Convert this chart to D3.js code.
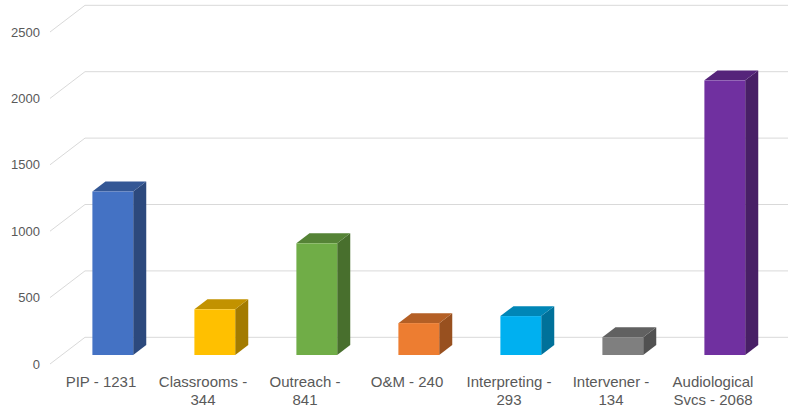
<!DOCTYPE html>
<html>
<head>
<meta charset="utf-8">
<script src="https://cdn.jsdelivr.net/npm/d3@7"></script>
<style>
  html, body { margin: 0; padding: 0; background: #ffffff; }
  svg { display: block; }
  text { font-family: "Liberation Sans", Arial, sans-serif; fill: #595959; }
</style>
</head>
<body>
<svg id="chart" width="788" height="410"></svg>
<script>
// Service counts by program
const categories = ["PIP", "Classrooms", "Outreach", "O&M", "Interpreting", "Intervener", "Audiological Svcs"];
const values = [1231, 344, 841, 240, 293, 134, 2068];
const colors = ["#4472C4", "#FFC000", "#70AD47", "#ED7D31", "#00B0F0", "#7F7F7F", "#7030A0"];
const yTicks = [0, 500, 1000, 1500, 2000, 2500];

const W = 788, H = 410;
const svg = d3.select("#chart");

// Front plane of the 3-D box and the depth offset to the back wall
const depth = { dx: 35, dy: -26.7 };
const project = (x, y, t) => [x + depth.dx * t, y + depth.dy * t];
const barFront = 0.337, barBack = 0.71;

const x = d3.scaleBand()
  .domain(categories)
  .range([50, 764])
  .paddingInner(0.6)
  .paddingOuter(0.3);

const y = d3.scaleLinear()
  .domain([0, 2500])
  .range([364, 32]);

// Gridlines: slanted on the side wall, horizontal on the back wall
const grid = svg.append("g");
yTicks.forEach(v => {
  const a = project(50, y(v), 0);
  const b = project(50, y(v), 1);
  grid.append("path")
    .attr("d", `M${a[0]},${a[1]}L${b[0]},${b[1]}L${W},${b[1]}`)
    .attr("fill", "none")
    .attr("stroke", "#D9D9D9")
    .attr("stroke-width", 1);
});

// Y tick labels
svg.append("g").selectAll("text")
  .data(yTicks)
  .join("text")
  .attr("x", 40)
  .attr("y", d => y(d))
  .attr("dy", "0.35em")
  .attr("text-anchor", "end")
  .attr("font-size", 13)
  .text(d => d);

// 3-D bars
const shade = (c, k) => {
  const r = d3.rgb(c);
  return d3.rgb(r.r * k, r.g * k, r.b * k).formatHex();
};
const bars = svg.append("g");
categories.forEach((cat, i) => {
  const x0 = x(cat), x1 = x(cat) + x.bandwidth();
  const yb = y(0), yt = y(values[i]);
  const P = (px, py, t) => project(px, py, t).join(",");
  const g = bars.append("g");
  // side face
  g.append("polygon")
    .attr("points", [P(x1, yt, barFront), P(x1, yt, barBack), P(x1, yb, barBack), P(x1, yb, barFront)].join(" "))
    .attr("fill", shade(colors[i], 0.64));
  // top face
  g.append("polygon")
    .attr("points", [P(x0, yt, barFront), P(x1, yt, barFront), P(x1, yt, barBack), P(x0, yt, barBack)].join(" "))
    .attr("fill", shade(colors[i], 0.76));
  // front face
  const f0 = project(x0, yt, barFront), f1 = project(x1, yb, barFront);
  g.append("rect")
    .attr("x", f0[0])
    .attr("y", f0[1])
    .attr("width", f1[0] - f0[0])
    .attr("height", f1[1] - f0[1])
    .attr("fill", colors[i]);
});

// Category labels with value, wrapped to the category width
const labels = svg.append("g");
categories.forEach((cat, i) => {
  const words = `${cat} - ${values[i]}`.split(" ");
  const t = labels.append("text")
    .attr("text-anchor", "middle")
    .attr("font-size", 15);
  const cx = x(cat) + x.bandwidth() / 2;
  const maxW = 100;
  let lines = [], cur = [];
  const probe = t.append("tspan");
  words.forEach(w => {
    const test = cur.concat([w]).join(" ");
    probe.text(test);
    if (cur.length && probe.node().getComputedTextLength() > maxW) {
      lines.push(cur.join(" "));
      cur = [w];
    } else {
      cur.push(w);
    }
  });
  lines.push(cur.join(" "));
  probe.remove();
  lines.forEach((ln, k) => {
    t.append("tspan")
      .attr("x", cx)
      .attr("y", 386.5 + k * 18.5)
      .text(ln);
  });
});
</script>
</body>
</html>
